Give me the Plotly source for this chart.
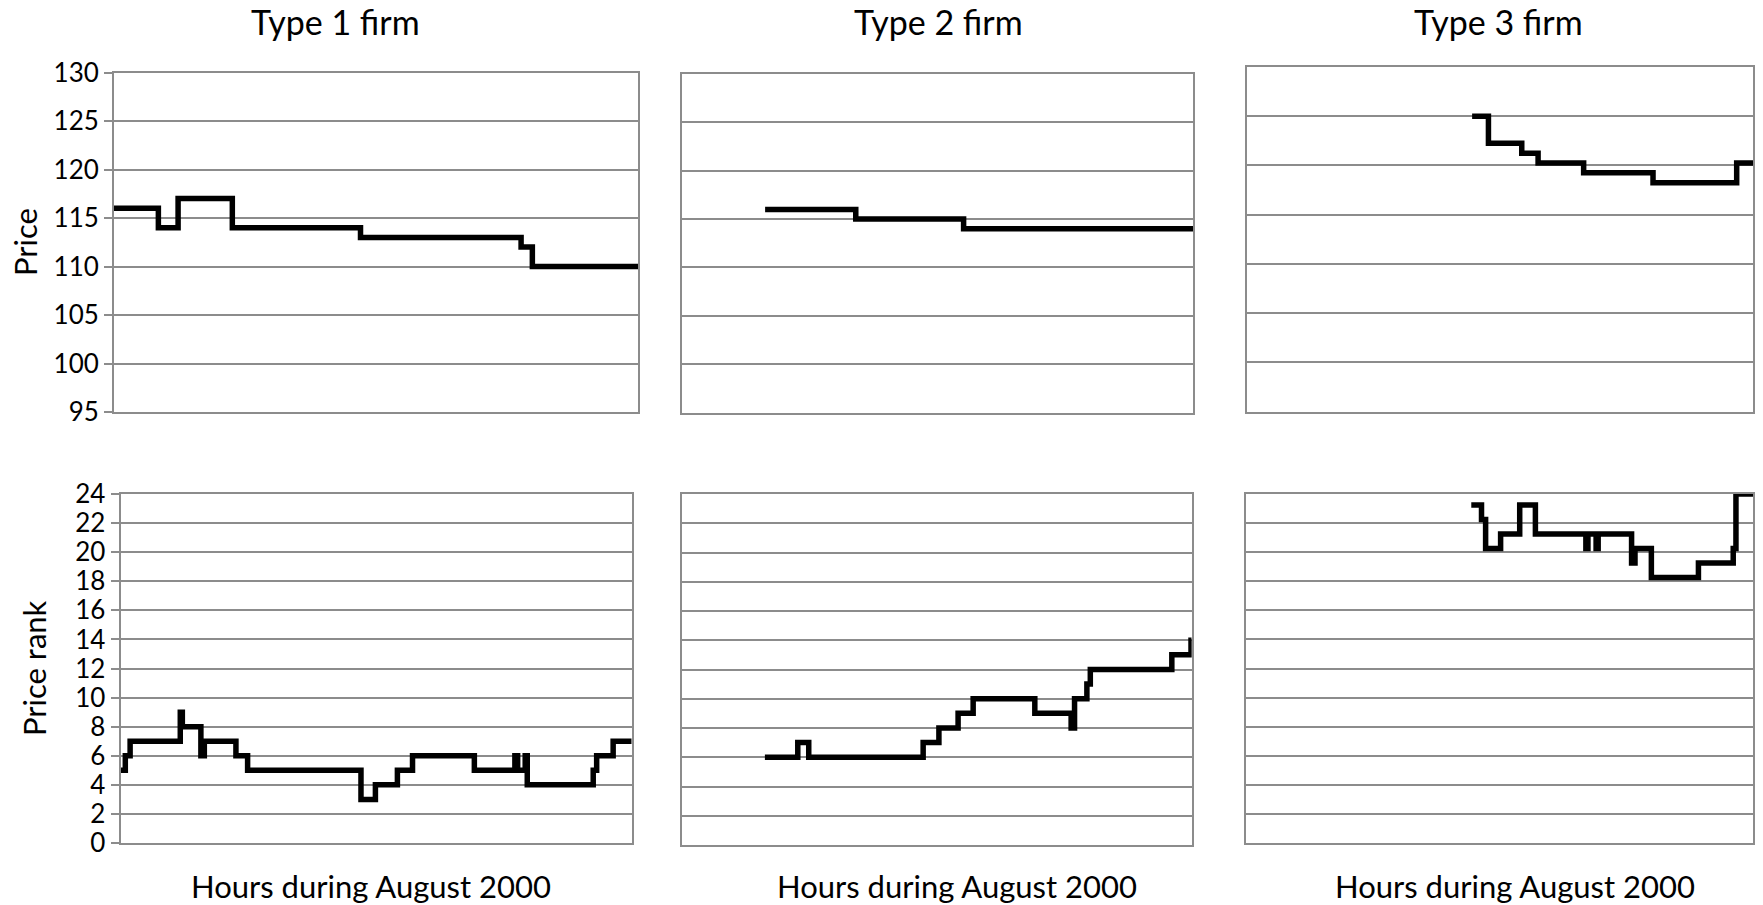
import plotly.graph_objects as go

W, H = 1763, 905

# ---------------- data (hours of August 2000, step changes) ----------------
t1_price_hours = [0, 63, 91, 168, 350, 578, 594, 744]
t1_price = [116, 114, 117, 114, 113, 112, 110, 110]

t2_price_hours = [121, 253, 410, 744]
t2_price = [116, 115, 114, 114]

t3_price_hours = [331, 355, 404, 428, 495, 597, 720, 744]
t3_price = [125, 122.25, 121.25, 120.25, 119.25, 118.25, 120.25, 120.25]

t1_rank_hours = [0, 7, 14, 87, 90, 117, 122, 168, 185, 350, 371, 403, 425,
                 515, 574, 578, 589, 592, 688, 693, 717, 744]
t1_rank = [5, 6, 7, 9, 8, 6, 7, 6, 5, 3, 4, 5, 6, 5, 6, 5, 6, 4, 5, 6, 7, 7]

t2_rank_hours = [121, 169, 185, 352, 375, 403, 425, 515, 568, 573, 591, 596,
                 715, 743, 744]
t2_rank = [6, 7, 6, 7, 8, 9, 10, 9, 8, 10, 11, 12, 13, 14, 14]

t3_rank_hours = [331, 346, 352, 374, 402, 425, 499, 502, 514, 517, 566, 571,
                 595, 664, 715, 719, 744]
t3_rank = [23.25, 22.25, 20.25, 21.25, 23.25, 21.25, 20.25, 21.25, 20.25,
           21.25, 19.25, 20.25, 18.25, 19.25, 20.25, 24, 24]

panel_titles = ["Type 1 firm", "Type 2 firm", "Type 3 firm"]
x_title = "Hours during August 2000"
y_titles = ["Price", "Price rank"]
price_ticks = [95, 100, 105, 110, 115, 120, 125, 130]
rank_ticks = [0, 2, 4, 6, 8, 10, 12, 14, 16, 18, 20, 22, 24]

# ---------------- layout geometry (pixels) ----------------
panels = [  # x0, x1, y0(top), y1(bottom)
    (114, 638, 72.5, 412),
    (682, 1193, 74, 412.5),
    (1247, 1753, 67, 411.5),
    (120.5, 631.7, 494, 843),
    (682, 1191.7, 494, 845),
    (1245.5, 1753, 494, 843),
]

series = [
    (t1_price_hours, t1_price),
    (t2_price_hours, t2_price),
    (t3_price_hours, t3_price),
    (t1_rank_hours, t1_rank),
    (t2_rank_hours, t2_rank),
    (t3_rank_hours, t3_rank),
]

FONT = "Lato, 'Open Sans', sans-serif"
GRID = "#8c8c8c"

fig = go.Figure()
layout = dict(
    width=W, height=H,
    margin=dict(l=0, r=0, t=0, b=0, pad=0, autoexpand=False),
    paper_bgcolor="white", plot_bgcolor="white",
    showlegend=False,
    font=dict(family=FONT, color="black"),
)

for i, ((hx, hy), (x0, x1, yt, yb)) in enumerate(zip(series, panels)):
    n = i + 1
    xa = "x" if n == 1 else f"x{n}"
    ya = "y" if n == 1 else f"y{n}"
    fig.add_trace(go.Scatter(
        x=hx, y=hy, mode="lines", line=dict(color="black", width=5.5, shape="hv"),
        xaxis=xa, yaxis=ya, hoverinfo="skip"))
    is_price = i < 3
    show_labels = i in (0, 3)
    layout["xaxis" if n == 1 else f"xaxis{n}"] = dict(
        domain=[x0 / W, x1 / W], anchor=ya, range=[0, 744], automargin=False,
        showgrid=False, zeroline=False, showticklabels=False, ticks="",
        showline=True, linecolor=GRID, linewidth=2, mirror=True, fixedrange=True)
    layout["yaxis" if n == 1 else f"yaxis{n}"] = dict(
        domain=[1 - yb / H, 1 - yt / H], anchor=xa, automargin=False,
        range=[95, 130] if is_price else [0, 24],
        tickmode="array",
        tickvals=price_ticks if is_price else rank_ticks,
        ticktext=[str(v) for v in (price_ticks if is_price else rank_ticks)],
        showticklabels=show_labels,
        ticks="outside" if show_labels else "", ticklen=8, tickwidth=2,
        tickcolor=GRID,
        tickfont=dict(family=FONT, size=26, color="black"),
        showgrid=True, gridcolor=GRID, gridwidth=2, zeroline=False,
        showline=True, linecolor=GRID, linewidth=2, mirror=True, fixedrange=True)

annotations = []
for txt, cx in zip(panel_titles, [335, 938, 1498]):
    annotations.append(dict(text=txt, x=cx / W, y=1 - 22 / H, xref="paper", yref="paper",
                            xanchor="center", yanchor="middle", showarrow=False,
                            font=dict(family=FONT, size=34, color="black")))
for cx in [371, 957, 1515]:
    annotations.append(dict(text=x_title, x=cx / W, y=1 - 886 / H, xref="paper", yref="paper",
                            xanchor="center", yanchor="middle", showarrow=False,
                            font=dict(family=FONT, size=31, color="black")))
for txt, cx, cy in zip(y_titles, [25, 34], [242, 668]):
    annotations.append(dict(text=txt, x=cx / W, y=1 - cy / H, xref="paper", yref="paper",
                            xanchor="center", yanchor="middle", showarrow=False, textangle=-90,
                            font=dict(family=FONT, size=31, color="black")))
layout["annotations"] = annotations

fig.update_layout(**layout)
fig.write_html(
    "out.html",
    config={"displayModeBar": False},
    post_script="document.body.style.margin='0';"
                "document.documentElement.style.overflow='hidden';"
                "document.body.style.overflow='hidden';",
)
